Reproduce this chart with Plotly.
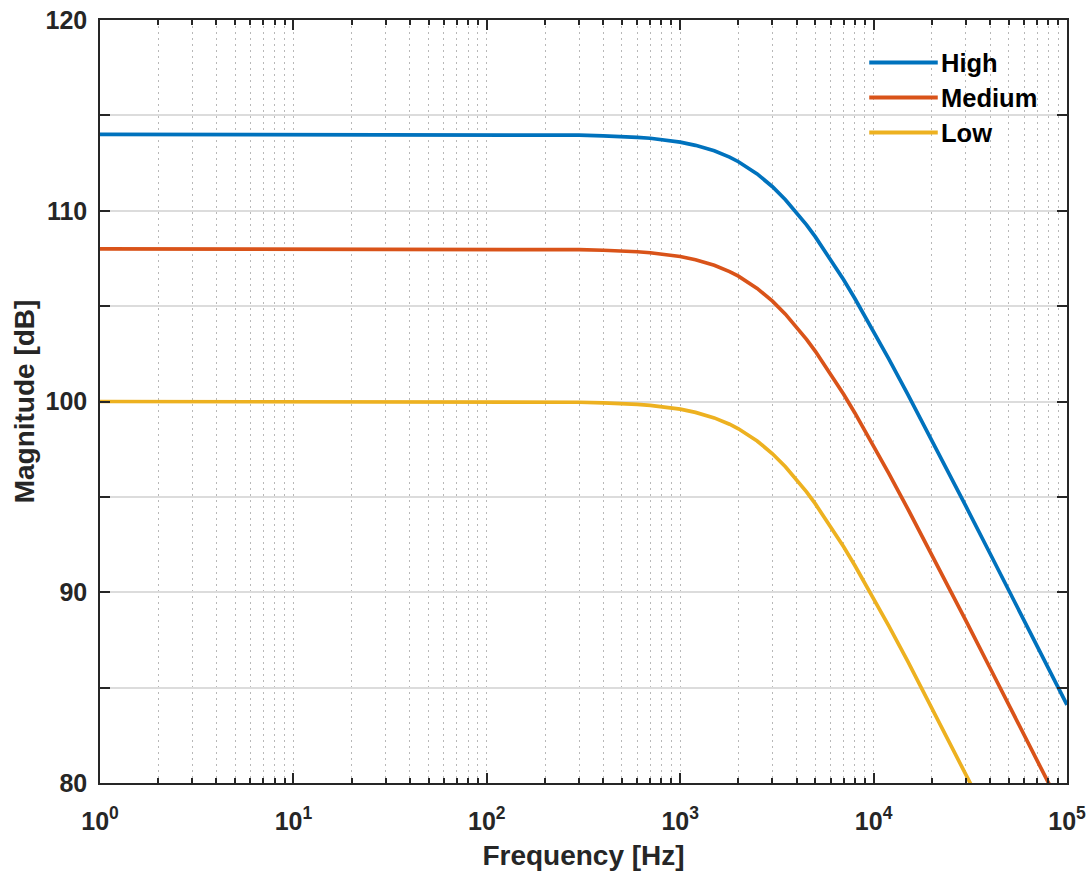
import plotly.graph_objects as go

# Frequency points (Hz) and magnitude responses (dB) for three gain settings
freq_hz = [1, 10, 100, 200, 300, 400, 500, 600, 700, 800, 1000, 1200, 1500, 1800,
           2000, 2500, 3000, 3500, 4000, 4500, 5000, 6000, 7000, 8000, 9000, 10000,
           12000, 15000, 20000, 25000, 30000, 40000, 50000, 60000, 70000, 80000, 100000]

mag_high = [114.0, 114.0, 114.0, 113.98, 113.96, 113.93, 113.9, 113.85, 113.8, 113.74,
            113.6, 113.43, 113.14, 112.81, 112.57, 111.93, 111.26, 110.58, 109.91, 109.26,
            108.63, 107.45, 106.38, 105.4, 104.5, 103.68, 102.22, 100.39, 97.97, 96.07,
            94.51, 92.03, 90.11, 88.53, 87.19, 86.03, 84.1]
mag_medium = [108.0, 108.0, 108.0, 107.98, 107.96, 107.93, 107.9, 107.85, 107.8, 107.74,
              107.6, 107.43, 107.14, 106.81, 106.57, 105.93, 105.26, 104.58, 103.91, 103.26,
              102.63, 101.45, 100.38, 99.4, 98.5, 97.68, 96.22, 94.39, 91.97, 90.07,
              88.51, 86.03, 84.11, 82.53, 81.19, 80.03, 78.1]
mag_low = [100.0, 100.0, 100.0, 99.98, 99.96, 99.93, 99.9, 99.85, 99.8, 99.74,
           99.6, 99.43, 99.14, 98.81, 98.57, 97.93, 97.26, 96.58, 95.91, 95.26,
           94.63, 93.45, 92.38, 91.4, 90.5, 89.68, 88.22, 86.39, 83.97, 82.07,
           80.51, 78.03, 76.11, 74.53, 73.19, 72.03, 70.1]

series_names = ["High", "Medium", "Low"]
series_colors = ["#0072BD", "#D95319", "#EDB120"]

x_major = [1, 10, 100, 1000, 10000, 100000]
x_major_text = ["10<sup>0</sup>", "10<sup>1</sup>", "10<sup>2</sup>",
                "10<sup>3</sup>", "10<sup>4</sup>", "10<sup>5</sup>"]
x_minor = [m * 10 ** d for d in range(5) for m in range(2, 10)]

y_ticks = [80, 85, 90, 95, 100, 105, 110, 115, 120]
y_tick_text = ["80", "", "90", "", "100", "", "110", "", "120"]

FONT = "Liberation Sans, Arial, Helvetica, sans-serif"
AX = "#262626"
DOT_GRID = "#b8b8b8"

fig = go.Figure()
for name, color, mag in zip(series_names, series_colors, [mag_high, mag_medium, mag_low]):
    fig.add_trace(go.Scatter(x=freq_hz, y=mag, mode="lines", name=name,
                             line=dict(color=color, width=3.7), showlegend=False))

# Legend drawn as line segments plus labels in the upper right corner
plot_l, plot_r, plot_t, plot_b = 100, 1066.7, 20, 782.7
pw, ph = plot_r - plot_l, plot_b - plot_t
legend_rows = [62.5, 97.5, 132.5]
for name, color, py in zip(series_names, series_colors, legend_rows):
    yp = (plot_b - py) / ph
    fig.add_shape(type="line", xref="paper", yref="paper",
                  x0=(869 - plot_l) / pw, x1=(937.5 - plot_l) / pw, y0=yp, y1=yp,
                  line=dict(color=color, width=4))
    fig.add_annotation(xref="paper", yref="paper", x=(939 - plot_l) / pw, y=yp,
                       text=name, showarrow=False, xanchor="left", yanchor="middle",
                       font=dict(family=FONT, size=25.5, color="#000000", weight="bold"))

fig.update_xaxes(
    type="log", range=[0, 5],
    tickmode="array", tickvals=x_major, ticktext=x_major_text,
    ticks="inside", ticklen=10, tickwidth=1.5, tickcolor=AX,
    showline=True, linecolor=AX, linewidth=1.5, mirror="ticks",
    showgrid=True, gridcolor=DOT_GRID, gridwidth=1, griddash="1.5px,4.5px",
    minor=dict(tickmode="array", tickvals=x_minor, ticks="inside", ticklen=5,
               tickwidth=1.5, tickcolor=AX, showgrid=True, gridcolor=DOT_GRID,
               gridwidth=1, griddash="1.5px,4.5px"),
    tickfont=dict(family=FONT, size=25, color=AX, weight="bold"),
    ticklabelstandoff=15,
    title=dict(text="Frequency [Hz]", standoff=12,
               font=dict(family=FONT, size=28, color=AX, weight="bold")),
    zeroline=False,
)
fig.update_yaxes(
    range=[80, 120],
    tickmode="array", tickvals=y_ticks, ticktext=y_tick_text,
    ticks="inside", ticklen=10, tickwidth=1.5, tickcolor=AX,
    showline=True, linecolor=AX, linewidth=1.5, mirror="ticks",
    showgrid=True, gridcolor="#dcdcdc", gridwidth=1.5,
    tickfont=dict(family=FONT, size=25, color=AX, weight="bold"),
    ticklabelstandoff=6,
    title=dict(text="Magnitude [dB]", standoff=3,
               font=dict(family=FONT, size=28, color=AX, weight="bold")),
    zeroline=False,
)

fig.update_layout(
    width=1089, height=873,
    margin=dict(l=100, r=22, t=20, b=90, autoexpand=False),
    paper_bgcolor="white", plot_bgcolor="white",
)

fig.write_html("out.html")
